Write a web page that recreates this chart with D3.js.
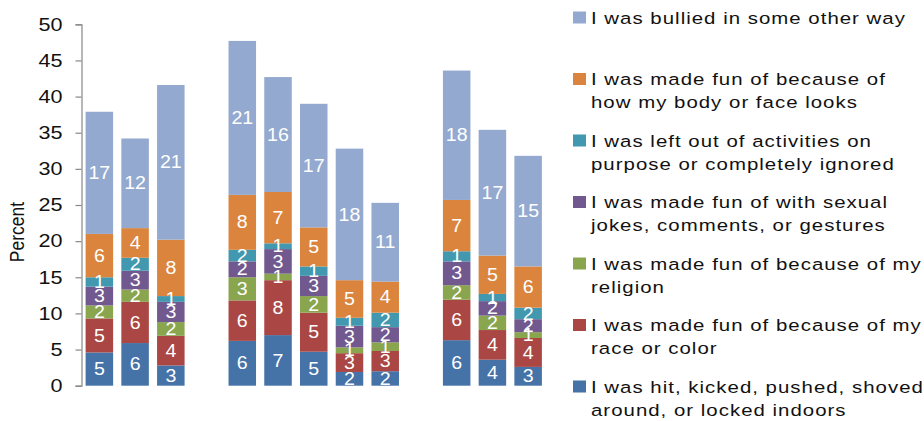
<!DOCTYPE html>
<html>
<head>
<meta charset="utf-8">
<script src="https://cdn.jsdelivr.net/npm/d3@7"></script>
<style>
  html, body { margin: 0; padding: 0; background: #fff; }
  svg { display: block; }
  text { font-family: "Liberation Sans", Arial, sans-serif; }
</style>
</head>
<body>
<svg id="chart" width="924" height="421"></svg>
<script>
// Eleven bars arranged in three clusters (3, 5 and 3 bars)
const categories = ["1", "2", "3", "4", "5", "6", "7", "8", "9", "10", "11"];
const groupSizes = [3, 5, 3];

// Percent of students reporting each kind of bullying (stack order, bottom to top)
const hit      = [4.6, 5.9, 2.8, 6.2, 7.0, 4.7, 1.9, 2.0, 6.3, 3.6, 2.6];
const race     = [4.7, 5.7, 4.1, 5.6, 7.6, 5.4, 2.6, 2.8, 5.6, 4.1, 4.0];
const religion = [1.8, 1.7, 1.9, 3.2, 0.9, 2.3, 0.8, 1.2, 2.0, 2.0, 0.8];
const sexual   = [2.6, 2.6, 2.8, 2.2, 3.4, 2.8, 3.0, 2.1, 3.3, 2.0, 1.8];
const leftOut  = [1.3, 1.8, 0.8, 1.6, 0.8, 1.3, 1.1, 2.0, 1.4, 1.0, 1.6];
const body     = [6.0, 4.1, 7.8, 7.6, 7.1, 5.4, 5.2, 4.3, 7.1, 5.3, 5.7];
const other    = [16.9, 12.4, 21.4, 21.3, 15.9, 17.1, 18.2, 10.9, 17.9, 17.4, 15.3];

const seriesKeys = ["hit", "race", "religion", "sexual", "leftOut", "body", "other"];
const seriesValues = { hit, race, religion, sexual, leftOut, body, other };
const seriesNames = {
  hit: ["I was hit, kicked, pushed, shoved", "around, or locked indoors"],
  race: ["I was made fun of because of my", "race or color"],
  religion: ["I was made fun of because of my", "religion"],
  sexual: ["I was made fun of with sexual", "jokes, comments, or gestures"],
  leftOut: ["I was left out of activities on", "purpose or completely ignored"],
  body: ["I was made fun of because of", "how my body or face looks"],
  other: ["I was bullied in some other way"]
};
const seriesColors = {
  hit: "#4572A7", race: "#AA4643", religion: "#89A54E", sexual: "#71588F",
  leftOut: "#4198AF", body: "#DB843D", other: "#93A9CF"
};
const yTicks = [0, 5, 10, 15, 20, 25, 30, 35, 40, 45, 50];
const yTitle = "Percent";

// Horizontal stretch applied to all text
const SX = 1.2;

const svg = d3.select("#chart");

// Band slots: bars plus one empty slot between clusters
const slots = [];
let ci = 0;
groupSizes.forEach((n, gi) => {
  if (gi > 0) slots.push("gap" + gi);
  for (let k = 0; k < n; k++) slots.push(categories[ci++]);
});

const x = d3.scaleBand().domain(slots).range([81.5, 546]).paddingInner(0.23).paddingOuter(0.115);
const y = d3.scaleLinear().domain([0, 50]).range([385.7, 24.3]);

const rows = categories.map((c, i) => {
  const r = { cat: c };
  seriesKeys.forEach(k => r[k] = seriesValues[k][i]);
  return r;
});
const stacked = d3.stack().keys(seriesKeys)(rows);

// Y axis
const yAxis = svg.append("g")
  .attr("transform", "translate(81.5,0)")
  .call(d3.axisLeft(y).tickValues(yTicks).tickSize(6).tickPadding(14));
yAxis.select(".domain").attr("stroke", "#888").attr("stroke-width", 1.2);
yAxis.selectAll(".tick line").attr("stroke", "#888").attr("stroke-width", 1.2);
yAxis.selectAll(".tick text")
  .attr("fill", "#111")
  .style("font-size", "18px")
  .style("font-family", "'Liberation Sans', Arial, sans-serif")
  .attr("transform", `scale(${SX},1)`)
  .attr("x", -19 / SX);

svg.append("text")
  .attr("transform", `translate(17,232) scale(${SX},1) rotate(-90)`)
  .attr("text-anchor", "middle")
  .attr("dominant-baseline", "central")
  .style("font-size", "17.5px")
  .attr("fill", "#111")
  .text(yTitle);

// Bars
const layers = svg.append("g").selectAll("g")
  .data(stacked).join("g")
  .attr("fill", d => seriesColors[d.key]);

layers.selectAll("rect")
  .data(d => d).join("rect")
  .attr("x", d => x(d.data.cat))
  .attr("width", x.bandwidth())
  .attr("y", d => y(d[1]))
  .attr("height", d => y(d[0]) - y(d[1]));

// Value labels centred in each segment
const labels = svg.append("g");
stacked.forEach(layer => {
  layer.forEach(d => {
    const cx = x(d.data.cat) + x.bandwidth() / 2;
    const cy = (y(d[0]) + y(d[1])) / 2;
    labels.append("text")
      .attr("transform", `translate(${cx},${cy}) scale(1.12,1)`)
      .attr("text-anchor", "middle")
      .attr("dominant-baseline", "central")
      .style("font-size", "17.5px")
      .attr("fill", "#fff")
      .text(Math.round(d.data[layer.key]));
  });
});

// Legend, top item first
const legendOrder = seriesKeys.slice().reverse();
const legend = svg.append("g");
legendOrder.forEach((k, i) => {
  const cy = 18 + i * 61.5;
  legend.append("rect")
    .attr("x", 573).attr("y", cy - 6.5)
    .attr("width", 13).attr("height", 12)
    .attr("fill", seriesColors[k]);
  seriesNames[k].forEach((line, j) => {
    legend.append("text")
      .attr("transform", `translate(591,${cy + j * 23}) scale(${SX},1)`)
      .attr("dominant-baseline", "central")
      .style("font-size", "17px")
      .style("letter-spacing", "0.85px")
      .attr("fill", "#111")
      .text(line);
  });
});
</script>
</body>
</html>
